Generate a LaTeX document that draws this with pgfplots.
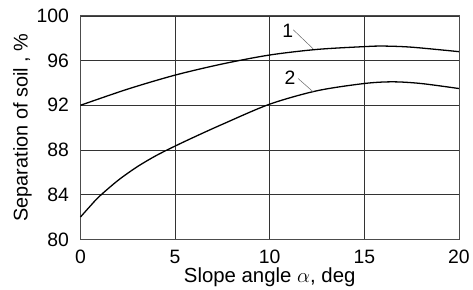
\documentclass[border=0pt]{standalone}
\usepackage{pgfplots}
\pgfplotsset{compat=1.18}
\usepackage{fontspec}
\setmainfont{Liberation Sans}
\begin{document}
\begin{tikzpicture}
\begin{axis}[
  scale only axis,
  width=381pt, height=225pt,
  xmin=0, xmax=20, ymin=80, ymax=100,
  xtick={0,5,10,15,20},
  ytick={80,84,88,92,96,100},
  major tick length=0pt,
  grid=major,
  major grid style={black!80, line width=0.6pt},
  axis line style={black!70, line width=0.8pt},
  /pgf/number format/assume math mode=true,
  tick label style={font=\fontsize{19.5}{21}\selectfont},
  yticklabel style={xshift=-8pt},
  xticklabel style={yshift=-7pt},
  xlabel={Slope angle $\alpha$, deg},
  ylabel={Separation of soil , \%},
  xlabel style={font=\fontsize{20.5}{22}\selectfont, yshift=3pt},
  ylabel style={font=\fontsize{20}{22}\selectfont, yshift=-2pt},
  clip=false,
]
\addplot[black, line width=1.3pt, smooth] coordinates {
  (0,92.0) (2.5,93.45) (5,94.7) (7.5,95.7) (10,96.5) (12.5,97.0) (15,97.25) (16,97.3) (17.5,97.2) (20,96.8)
};
\addplot[black, line width=1.3pt, smooth] coordinates {
  (0,82.0) (0.5,82.95) (1,83.85) (2,85.3) (3,86.5) (4,87.5) (5,88.35) (6,89.15) (7.5,90.3) (10,92.1) (12.5,93.3) (15,93.95) (16.5,94.1) (18,93.95) (20,93.5)
};
\draw[black!60, line width=0.5pt] (axis cs:11.25,98.75) -- (axis cs:12.3,97.05);
\draw[black!60, line width=0.5pt] (axis cs:11.5,94.4) -- (axis cs:12.3,93.2);
\node[font=\fontsize{19.5}{21}\selectfont] at (axis cs:10.95,98.7) {1};
\node[font=\fontsize{19.5}{21}\selectfont] at (axis cs:11.08,94.5) {2};
\end{axis}
\path ([yshift=16pt]current axis.north);
\path ([xshift=-81pt]current axis.west);
\end{tikzpicture}
\end{document}
